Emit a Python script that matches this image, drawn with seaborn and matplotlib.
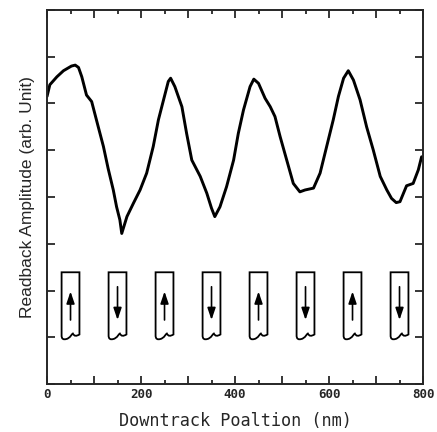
import numpy as np
import pandas as pd
import matplotlib
matplotlib.use("Agg")
import matplotlib.pyplot as plt
import seaborn as sns
from matplotlib.path import Path
from matplotlib.patches import PathPatch
from matplotlib.ticker import MultipleLocator, FuncFormatter

# readback signal
position_nm = [0, 6, 21, 35, 52, 60, 67, 74, 84, 95, 109, 120, 130, 141, 148, 155,
               159, 170, 184, 198, 212, 226, 237, 248, 258, 263, 272, 287, 297, 308,
               326, 340, 350, 357, 368, 382, 397, 407, 418, 432, 440, 450, 464, 475,
               485, 496, 510, 524, 538, 549, 567, 581, 595, 609, 620, 631, 641, 652,
               666, 680, 694, 709, 723, 733, 743, 751, 765, 779, 790, 797]
amplitude = [6.15, 6.40, 6.57, 6.70, 6.80, 6.82, 6.77, 6.57, 6.18, 6.04, 5.50, 5.08,
             4.61, 4.15, 3.79, 3.51, 3.22, 3.58, 3.87, 4.15, 4.51, 5.08, 5.65, 6.08,
             6.47, 6.54, 6.36, 5.93, 5.36, 4.79, 4.44, 4.08, 3.76, 3.58, 3.79, 4.22,
             4.79, 5.36, 5.86, 6.36, 6.52, 6.43, 6.11, 5.93, 5.72, 5.29, 4.79, 4.29,
             4.11, 4.15, 4.19, 4.51, 5.08, 5.65, 6.15, 6.54, 6.70, 6.50, 6.08, 5.50,
             5.01, 4.44, 4.15, 3.97, 3.88, 3.90, 4.24, 4.29, 4.58, 4.86]

# written bits (magnetisation direction of each cell)
bit_centers = [50, 150, 250, 350, 450, 550, 650, 750]
bit_dirs = ["up", "down", "up", "down", "up", "down", "up", "down"]

df = pd.DataFrame({"pos": position_nm, "amp": amplitude})

sns.set_style("ticks")
fig = plt.figure(figsize=(4.37, 4.32), dpi=100)
ax = fig.add_axes([0.1076, 0.111, 0.8604, 0.866])

sns.lineplot(data=df, x="pos", y="amp", color="black", lw=2.1, ax=ax)

# bit cells: rectangle with a torn (wavy) bottom edge, arrow inside
half_w = 19
top = 2.39
arrow_style = "-|>,head_length=0.65,head_width=0.22"
for c, d in zip(bit_centers, bit_dirs):
    xl, xr = c - half_w, c + half_w
    verts = [(xl, top), (xl, 1.04),
             (xl, 0.96), (xl + 4, 0.95), (xl + 9, 0.96),
             (c, 0.98), (c + 3, 1.08), (c + 5, 1.08),
             (c + 8, 1.02), (c + 12, 1.02), (xr, 1.06),
             (xr, top), (xl, top)]
    codes = [Path.MOVETO, Path.LINETO,
             Path.CURVE4, Path.CURVE4, Path.CURVE4,
             Path.CURVE4, Path.CURVE4, Path.CURVE4,
             Path.CURVE4, Path.CURVE4, Path.CURVE4,
             Path.LINETO, Path.CLOSEPOLY]
    ax.add_patch(PathPatch(Path(verts, codes), fill=False, lw=1.3, ec="black"))
    if d == "up":
        start, end = 1.37, 1.98
    else:
        start, end = 2.08, 1.37
    ax.annotate("", xy=(c, end), xytext=(c, start),
                arrowprops=dict(arrowstyle=arrow_style, color="black", lw=1.2,
                                mutation_scale=11, shrinkA=0, shrinkB=0))

ax.set_xlim(0, 800)
ax.set_ylim(0, 8)
ax.xaxis.set_major_locator(MultipleLocator(100))
ax.xaxis.set_minor_locator(MultipleLocator(50))
ax.xaxis.set_major_formatter(FuncFormatter(lambda v, p: f"{int(v)}" if int(v) % 200 == 0 else ""))
ax.yaxis.set_major_locator(MultipleLocator(1))
ax.set_yticklabels([])
ax.tick_params(axis="both", which="major", direction="in", length=6, width=1.3,
               top=True, right=True, pad=3)
ax.tick_params(axis="x", which="minor", direction="in", length=3.2, width=1.3, top=True)
ax.tick_params(axis="y", which="both", left=True, right=True)
for lab in ax.get_xticklabels():
    lab.set_family("DejaVu Sans Mono")
    lab.set_fontsize(9)
    lab.set_fontweight("bold")
for s in ax.spines.values():
    s.set_visible(True)
    s.set_linewidth(1.4)

ax.set_xlabel("Downtrack Poaltion (nm)", family="DejaVu Sans Mono", fontsize=12.2, labelpad=8)
ax.set_ylabel("Readback Amplitude (arb. Unit)", family="Liberation Sans", fontsize=12.5, labelpad=6)

fig.savefig("out.png", dpi=100)
